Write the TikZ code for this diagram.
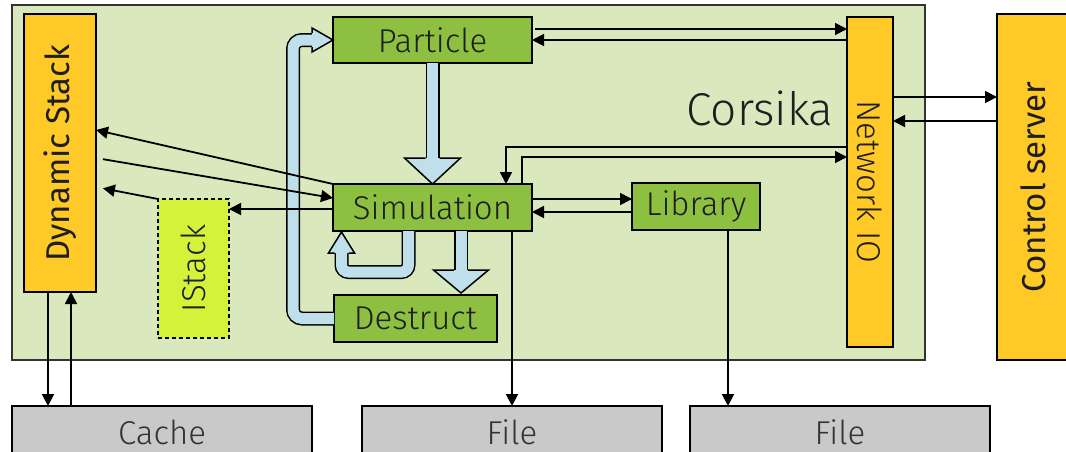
\documentclass[tikz,border=0pt]{standalone}
\usepackage{fontspec}
\setmainfont{Fira Sans}[UprightFont=* Light, BoldFont=*]
\usetikzlibrary{arrows.meta}
\definecolor{corsbg}{HTML}{DAE8BE}
\definecolor{gboxc}{HTML}{8DBF40}
\definecolor{yboxc}{HTML}{FFC928}
\definecolor{limec}{HTML}{D4F23A}
\definecolor{bluec}{HTML}{BFE0EA}
\definecolor{grayc}{HTML}{C9C9C9}
\definecolor{txt}{HTML}{1E1E1E}
\begin{document}
\begin{tikzpicture}[x=1pt,y=-1pt,
  box/.style={draw=black, line width=2pt, inner sep=0pt, outer sep=0pt,
    font=\fontsize{33}{33}\selectfont, text=txt},
  gbox/.style={box, fill=gboxc},
  ybox/.style={box, fill=yboxc},
  fbox/.style={box, fill=grayc, minimum width=300pt, minimum height=52pt, text=black!80},
  lbl/.style={font=\fontsize{33}{33}\selectfont, text=txt, inner sep=0pt},
  arr/.style={line width=1.8pt, -{Triangle[length=12pt,width=12pt]}},
  bshaft/.style={draw=black, line width=1.5pt, double=bluec, double distance=11pt},
  bhead/.style={fill=bluec, draw=black, line width=1.5pt, line join=miter}
]
\useasboundingbox (0,0) rectangle (1066,451);
\fill[white] (0,0) rectangle (1066,451);

% containers and boxes
\node[draw=black!80, line width=2pt, fill=corsbg, minimum width=913pt, minimum height=355pt, inner sep=0pt] (corsika) at (468.5,182.5) {};
\node[font=\fontsize{46}{46}\selectfont, text=txt, inner sep=0pt] (corsikalbl) at (760,108) {Corsika};

\node[ybox, minimum width=72pt, minimum height=278pt] (ds) at (60,153) {};
\node[lbl, font=\fontsize{33}{33}\selectfont\bfseries, rotate=90] (dstext) at (ds) {Dynamic Stack};

\node[gbox, minimum width=199pt, minimum height=46pt] (particle) at (432.5,40) {Particle};
\node[gbox, minimum width=199pt, minimum height=47pt] (sim) at (432.5,207.5) {Simulation};
\node[gbox, minimum width=163pt, minimum height=47pt] (destruct) at (415.5,318.5) {Destruct};
\node[gbox, minimum width=128pt, minimum height=47pt] (library) at (696,206.5) {Library};

\node[ybox, minimum width=46pt, minimum height=330pt] (netio) at (870,182) {};
\node[lbl, rotate=-90] (netiotext) at (netio) {Network IO};

\node[ybox, minimum width=72pt, minimum height=346pt] (cs) at (1033,187) {};
\node[lbl, font=\fontsize{33}{33}\selectfont\bfseries, rotate=90] (cstext) at (cs) {Control server};

\node[box, fill=limec, dashed, dash pattern=on 4pt off 3pt, line width=1.8pt, minimum width=71pt, minimum height=139pt] (istack) at (193.5,268.5) {};
\node[lbl, rotate=90] (istacktext) at (istack) {IStack};

\node[fbox] (cache) at (162,432) {Cache};
\node[fbox] (file1) at (512,432) {File};
\node[fbox] (file2) at (840,432) {File};

% blue flow arrows
% Particle -> Simulation
\draw[bshaft] (particle.south) -- ([yshift=25pt]sim.north);
\filldraw[bhead] ([shift={(-7,-26)}]sim.north) -- ++(-21,0) -- (sim.north) -- ([shift={(28,-26)}]sim.north) -- ++(-21,0);
% Simulation -> Destruct
\path ([xshift=28.5pt]sim.south) coordinate (sd0) ++(0,62) coordinate (sdtip);
\draw[bshaft] (sd0) -- ++(0,40);
\filldraw[bhead] ([shift={(-7,-23)}]sdtip) -- ++(-20.5,0) -- (sdtip) -- ([shift={(27.5,-23)}]sdtip) -- ++(-20.5,0);
% Simulation self loop
\draw[bshaft, rounded corners=7pt] ([xshift=-24pt]sim.south) -- ++(0,41) -| ([shift={(-91,21)}]sim.south);
\filldraw[bhead] ([shift={(-98,22)}]sim.south) -- ++(-6,0) -- ([shift={(-91,1)}]sim.south) -- ([shift={(-78,22)}]sim.south) -- ++(-6,0);
% Destruct -> Particle
\draw[bshaft, rounded corners=9pt] (destruct.west) -- ++(-41,0) |- ([xshift=-20pt]particle.west);
\filldraw[bhead] ([shift={(-21,-7)}]particle.west) -- ++(0,-5) -- (particle.west) -- ([shift={(-21,12)}]particle.west) -- ++(0,-5);

% black connectors
\draw[arr, shorten <=3pt] (particle.east |- 0,29) -- (netio.west |- 0,29);
\draw[arr] (netio.west |- 0,40) -- (particle.east |- 0,40);
\draw[arr] (netio.east |- 0,97) -- (cs.west |- 0,97);
\draw[arr] (cs.west |- 0,121) -- (netio.east |- 0,121);
\draw[arr] (netio.west |- 0,147) -| ([xshift=73.5pt]sim.north);
\draw[arr] ([xshift=89.5pt]sim.north) |- (netio.west |- 0,157);
\draw[arr] (sim.east |- 0,199) -- (library.west |- 0,199);
\draw[arr] (library.west |- 0,212) -- (sim.east |- 0,212);
\draw[arr] (sim.south -| file1.north) -- (file1.north);
\draw[arr] ([xshift=32pt]library.south) -- (file2.north -| 728,0);
\draw[arr] (sim.north west) -- (ds.east |- 0,130);
\draw[arr, shorten <=7pt] (ds.east |- 0,158) -- (sim.west |- 0,198);
\draw[arr, shorten >=7pt] (istack.north west) -- (ds.east |- 0,187);
\draw[arr] (sim.west |- 0,209) -- (istack.east |- 0,209);
\draw[arr] (ds.south -| 48,0) -- (cache.north -| 48,0);
\draw[arr] (cache.north -| 71,0) -- (ds.south -| 71,0);
\end{tikzpicture}
\end{document}
